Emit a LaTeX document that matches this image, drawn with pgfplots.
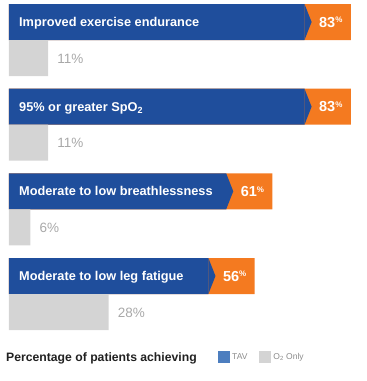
\documentclass[border=0pt]{standalone}
\usepackage{pgfplots}
\pgfplotsset{compat=1.18}
\usepackage{fontspec}
\setmainfont{Liberation Sans}
\definecolor{tavblue}{HTML}{1F4E9C}
\definecolor{tavorange}{HTML}{F47A20}
\definecolor{o2gray}{HTML}{D4D4D4}
\definecolor{valgray}{HTML}{A8A8A8}
\definecolor{legblue}{HTML}{4D7EBF}
\definecolor{legtext}{HTML}{8C8C8C}
\begin{document}
\begin{tikzpicture}
\begin{axis}[
  width=367pt, height=381pt, scale only axis,
  xmin=-2.528, xmax=100.56, ymin=0, ymax=381, y dir=reverse,
  hide axis, clip=false,
  /pgf/number format/assume math mode=true,
  legend columns=2,
  legend image code/.code={\fill[#1] (0pt,-6pt) rectangle (12pt,6pt);},
  legend style={at={(0.594,0.063)}, anchor=west, draw=none, fill=none,
    inner sep=0pt, font=\fontsize{8.5}{10}\selectfont\color{legtext},
    /tikz/every even column/.append style={column sep=10pt}},
  mybar/.style={xbar, bar shift=0pt, bar width=36, draw=none, forget plot},
]
\path (rel axis cs:0,0) rectangle (rel axis cs:1,1);
% orange tabs (value + fixed tab width 13)
\addplot[mybar, fill=tavorange] coordinates {(96,22) (96,106.7) (74,191.3) (69,276)};
% TAV bars
\addplot[mybar, fill=tavblue,
  nodes near coords={\fontsize{14.5}{15}\selectfont\bfseries\pgfmathprintnumber{\pgfplotspointmeta}\raisebox{0.3em}{\fontsize{8}{8}\selectfont\%}},
  every node near coord/.append style={anchor=base west, xshift=14.5pt, yshift=-5.2pt, inner sep=0pt, text=white}]
  coordinates {(83,22) (83,106.7) (61,191.3) (56,276)};
% chevron tips
\addplot[sharp plot, fill=tavblue, draw=none, forget plot] coordinates {(83,4) (85,22) (83,40)} -- cycle;
\addplot[sharp plot, fill=tavblue, draw=none, forget plot] coordinates {(83,88.7) (85,106.7) (83,124.7)} -- cycle;
\addplot[sharp plot, fill=tavblue, draw=none, forget plot] coordinates {(61,173.3) (63,191.3) (61,209.3)} -- cycle;
\addplot[sharp plot, fill=tavblue, draw=none, forget plot] coordinates {(56,258) (58,276) (56,294)} -- cycle;
% O2 only bars
\addplot[mybar, fill=o2gray,
  nodes near coords={\fontsize{13.5}{14}\selectfont\pgfmathprintnumber{\pgfplotspointmeta}\%},
  every node near coord/.append style={anchor=base west, xshift=9pt, yshift=-5pt, inner sep=0pt, text=valgray}]
  coordinates {(11,58) (11,142.7) (6,227.3) (28,312)};
% category labels
\begin{scope}[every node/.style={anchor=base west, inner sep=0pt, text=white, font=\fontsize{12.75}{14}\selectfont\bfseries}]
\node at (axis cs:2.81,26.6) {Improved exercise endurance};
\node at (axis cs:2.81,111.3) {95\% or greater SpO\textsubscript{2}};
\node at (axis cs:2.81,195.9) {Moderate to low breathlessness};
\node at (axis cs:2.81,280.6) {Moderate to low leg fatigue};
\end{scope}
\node[anchor=base west, inner sep=0pt, text=black!87, font=\fontsize{12.2}{14}\selectfont\bfseries] at (axis cs:-0.84,361.5) {Percentage of patients achieving};
\addlegendimage{fill=legblue, draw=none}
\addlegendentry{TAV}
\addlegendimage{fill=o2gray, draw=none}
\addlegendentry{O\textsubscript{2} Only}
\end{axis}
\end{tikzpicture}
\end{document}
